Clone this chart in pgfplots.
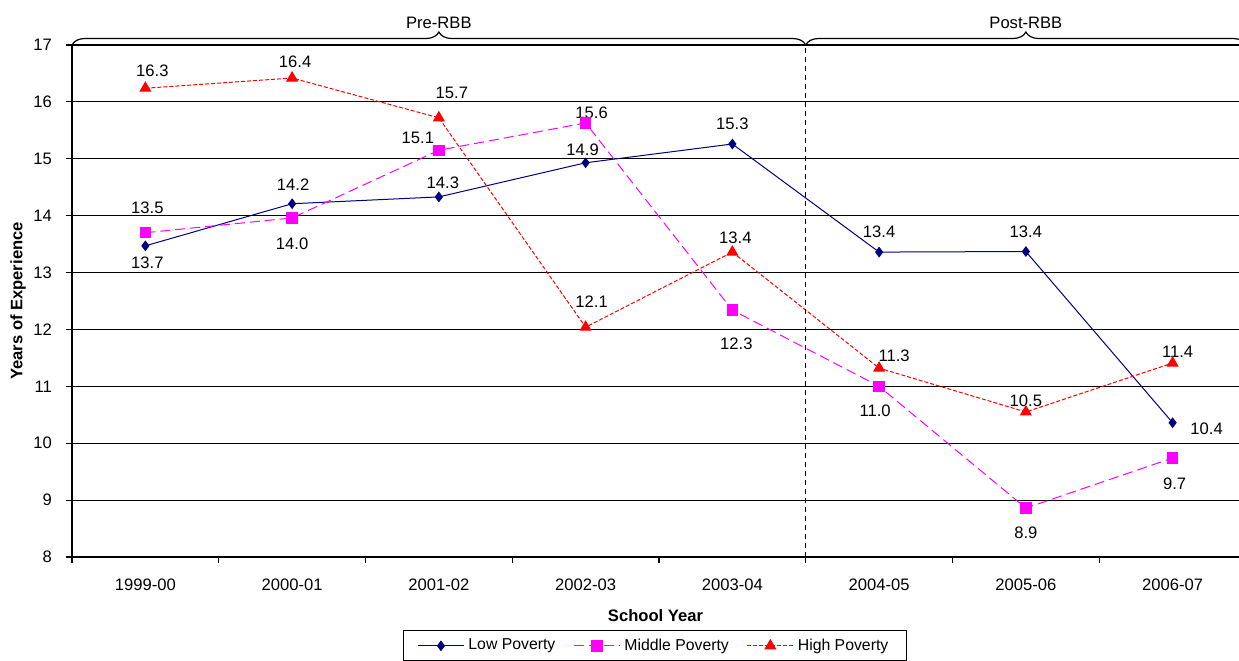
\documentclass[border=0pt]{standalone}
\usepackage{pgfplots}
\pgfplotsset{compat=1.18}
\usepackage{fontspec}
\setmainfont{Liberation Sans}
\usetikzlibrary{decorations.pathreplacing}
\definecolor{lowc}{RGB}{0,0,128}
\definecolor{midc}{RGB}{255,0,255}
\definecolor{highc}{RGB}{255,0,0}

\begin{document}
\begin{tikzpicture}[font=\fontsize{8.3pt}{10pt}\selectfont]
\begin{axis}[at={(0,0)},anchor=south west,
  scale only axis,width=587pt,height=256pt,
  xmin=-0.5,xmax=7.5,ymin=8,ymax=17,
  xtick={0,...,7},
  xticklabels={1999-00,2000-01,2001-02,2002-03,2003-04,2004-05,2005-06,2006-07},
  minor xtick={-0.5,0.5,...,7.5},
  ytick={8,...,17},
  ymajorgrids,grid style={black,line width=0.5pt},
  tick align=outside,tick pos=left,
  major tick length=3pt,minor tick length=3pt,
  major x tick style={draw=none},
  minor x tick style={black,line width=0.6pt},
  ytick style={black,line width=0.6pt},
  axis line style={black,line width=1pt},
  /pgf/number format/assume math mode=true,
  yticklabel style={xshift=-3.5pt},
  xticklabel style={yshift=-4.5pt},
  xlabel={\bfseries School Year},ylabel={\bfseries Years of Experience},
  xlabel style={at={(axis description cs:0.497,-0.115)},anchor=center},
  ylabel style={at={(axis description cs:-0.046,0.5)},anchor=center},
  legend style={at={(axis description cs:0.4965,-0.1426)},anchor=north,
    legend columns=3,draw=black,line width=0.6pt,inner xsep=7pt,
    font=\fontsize{7.9pt}{10pt}\selectfont,
    /tikz/every even column/.append style={column sep=7pt}},
  legend image code/.code={\draw[mark repeat=2,mark phase=2,#1] plot coordinates {(0pt,0pt) (11.5pt,0pt) (23pt,0pt)};},
  legend cell align=left,
  clip=false]
\addplot[color=lowc,line width=0.5pt,mark=diamond*,mark size=2.3pt,mark options={solid,fill=lowc}]
  coordinates {(0,13.47) (1,14.21) (2,14.33) (3,14.93) (4,15.26) (5,13.36) (6,13.37) (7,10.36)};
\addlegendentry{Low Poverty}
\addplot[color=midc,line width=0.5pt,dash pattern=on 5pt off 2.5pt,mark=square*,mark size=2.6pt,mark options={solid,fill=midc}]
  coordinates {(0,13.70) (1,13.96) (2,15.15) (3,15.63) (4,12.34) (5,11.00) (6,8.86) (7,9.74)};
\addlegendentry{Middle Poverty}
\addplot[color=highc,line width=0.5pt,dash pattern=on 2pt off 1pt,mark=triangle*,mark size=3pt,mark options={solid,fill=highc}]
  coordinates {(0,16.24) (1,16.42) (2,15.72) (3,12.04) (4,13.36) (5,11.32) (6,10.55) (7,11.41)};
\addlegendentry{High Poverty}
% period divider and braces
\draw[black,line width=0.6pt,dash pattern=on 2.5pt off 2pt] (axis cs:4.5,8) -- (axis cs:4.5,17);
\draw[black,line width=0.6pt,decorate,decoration={brace,amplitude=6.5pt}]
  (axis cs:-0.5,17) -- (axis cs:4.5,17) node[midway,yshift=11pt]{Pre-RBB};
\draw[black,line width=0.6pt,decorate,decoration={brace,amplitude=6.5pt}]
  (axis cs:4.5,17) -- (axis cs:7.5,17) node[midway,yshift=11pt]{Post-RBB};
% data labels
\node[xshift=1pt,yshift=-8.5pt] at (axis cs:0,13.47) {13.7};
\node[xshift=0.5pt,yshift=9.5pt] at (axis cs:1,14.21) {14.2};
\node[xshift=2pt,yshift=7pt] at (axis cs:2,14.33) {14.3};
\node[xshift=-1.5pt,yshift=6.5pt] at (axis cs:3,14.93) {14.9};
\node[yshift=10pt] at (axis cs:4,15.26) {15.3};
\node[yshift=10pt] at (axis cs:5,13.36) {13.4};
\node[yshift=10pt] at (axis cs:6,13.37) {13.4};
\node[xshift=17pt,yshift=-3pt] at (axis cs:7,10.36) {10.4};
\node[xshift=1pt,yshift=12.5pt] at (axis cs:0,13.70) {13.5};
\node[yshift=-13pt] at (axis cs:1,13.96) {14.0};
\node[xshift=-10.5pt,yshift=6pt] at (axis cs:2,15.15) {15.1};
\node[xshift=3pt,yshift=5pt] at (axis cs:3,15.63) {15.6};
\node[xshift=2pt,yshift=-17pt] at (axis cs:4,12.34) {12.3};
\node[xshift=-2pt,yshift=-12pt] at (axis cs:5,11.00) {11.0};
\node[yshift=-12.5pt] at (axis cs:6,8.86) {8.9};
\node[xshift=1pt,yshift=-13pt] at (axis cs:7,9.74) {9.7};
\node[xshift=3.5pt,yshift=8.5pt] at (axis cs:0,16.24) {16.3};
\node[xshift=1.5pt,yshift=8pt] at (axis cs:1,16.42) {16.4};
\node[xshift=6.5pt,yshift=12.5pt] at (axis cs:2,15.72) {15.7};
\node[xshift=3pt,yshift=12.5pt] at (axis cs:3,12.04) {12.1};
\node[xshift=1.5pt,yshift=7pt] at (axis cs:4,13.36) {13.4};
\node[xshift=7.5pt,yshift=6pt] at (axis cs:5,11.32) {11.3};
\node[yshift=5.5pt] at (axis cs:6,10.55) {10.5};
\node[xshift=2.5pt,yshift=5.5pt] at (axis cs:7,11.41) {11.4};
\end{axis}
\pgfresetboundingbox
\useasboundingbox (-36pt,-51.5pt) rectangle (583.5pt,278.5pt);
\end{tikzpicture}
\end{document}
